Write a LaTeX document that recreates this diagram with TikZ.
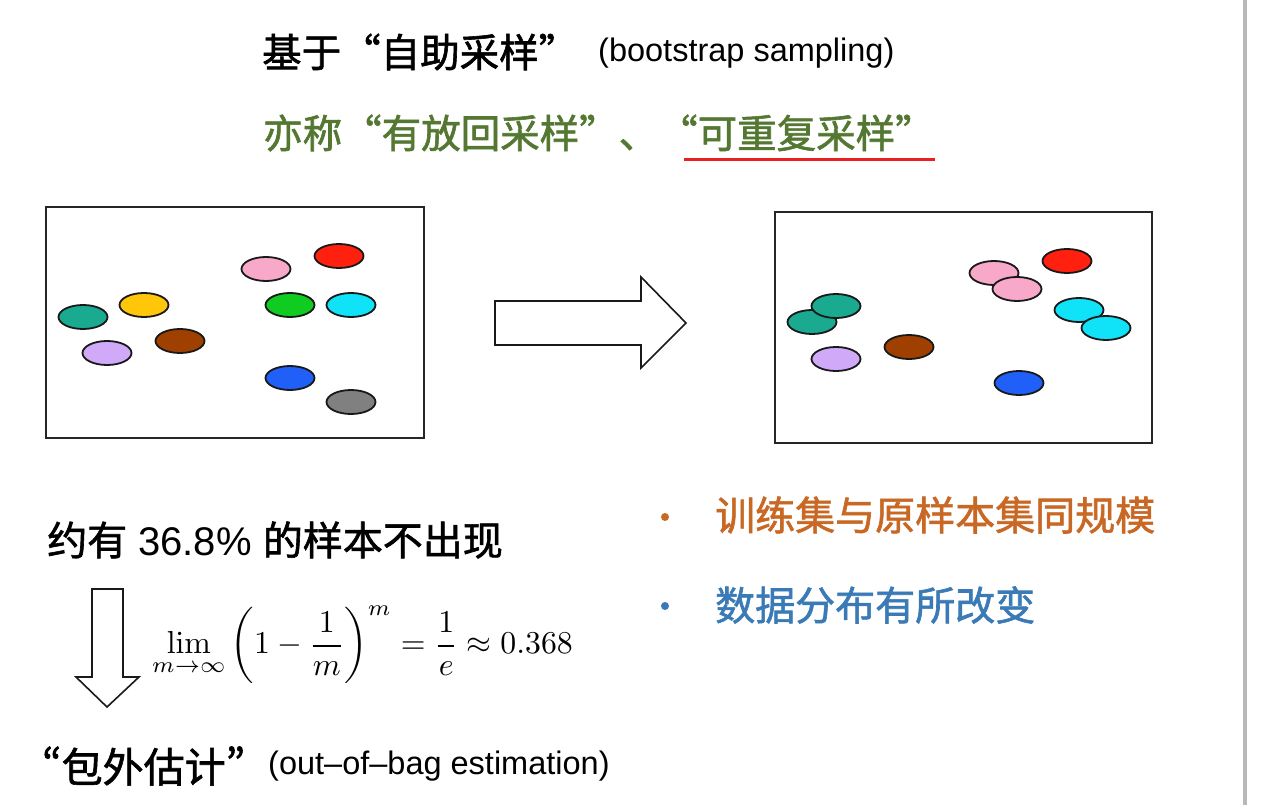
\documentclass[tikz,border=0pt]{standalone}
\usepackage[no-math]{fontspec}
\setmainfont{Liberation Sans}
\newfontfamily\cjk[FakeBold=1.5]{Noto Sans CJK SC}
\newfontfamily\cjkfw[CharacterWidth=Full,FakeBold=1.5]{Noto Sans CJK SC}
\newfontfamily\cjkpw[CharacterWidth=Proportional,FakeBold=1.5]{Noto Sans CJK SC}
\usetikzlibrary{shapes.geometric}
\definecolor{tgreen}{RGB}{84,120,50}
\definecolor{torange}{RGB}{200,104,36}
\definecolor{tblue}{RGB}{58,122,182}
\definecolor{ulred}{RGB}{232,32,32}
\definecolor{cteal}{RGB}{26,170,144}
\definecolor{cyellow}{RGB}{255,198,10}
\definecolor{clav}{RGB}{208,170,248}
\definecolor{cbrown}{RGB}{160,64,0}
\definecolor{cpink}{RGB}{248,168,200}
\definecolor{cred}{RGB}{255,32,16}
\definecolor{cgreen}{RGB}{16,204,32}
\definecolor{ccyan}{RGB}{16,226,248}
\definecolor{cblue}{RGB}{32,96,248}
\definecolor{cgray}{RGB}{128,128,128}
\tikzset{
  dot/.style={ellipse, draw=black!90, line width=1.8pt, minimum width=49pt, minimum height=24pt, inner sep=0pt},
  frame/.style={draw=black!85, line width=1.8pt},
  bigarrow/.style={draw=black!90, line width=1.6pt, fill=white, line join=miter},
  txt/.style={anchor=west, inner sep=0pt},
  bul/.style={circle, inner sep=0pt, minimum size=8pt}
}
\begin{document}
\begin{tikzpicture}[x=1pt,y=-1pt]
\useasboundingbox[fill=white] (0,0) rectangle (1281,805);
% right page edge
\fill[black!28] (1243,0) rectangle (1247,805);
% titles
\node[txt] (t1) at (262,52) {\fontsize{39.5}{45}\selectfont\cjkfw 基于“自助采样”};
\node[txt] (t1b) at (598,53) {\fontsize{32.5}{38}\selectfont (bootstrap sampling)};
\node[txt, text=tgreen] (t2) at (263,133) {\fontsize{39.5}{45}\selectfont\cjkfw 亦称“有放回采样”、“可重复采样”};
\coordinate (u1) at (684,160);
\coordinate (u2) at (935,160);
\draw[ulred, line width=3pt] (u1) -- (u2);
% left box
\draw[frame] (46,207) rectangle (424,438);
\node[dot, fill=cteal] (l1) at (83,317) {};
\node[dot, fill=cyellow] (l2) at (144,305) {};
\node[dot, fill=clav] (l3) at (107,353) {};
\node[dot, fill=cbrown] (l4) at (180,341) {};
\node[dot, fill=cpink] (l5) at (266,269) {};
\node[dot, fill=cred] (l6) at (339,256) {};
\node[dot, fill=cgreen] (l7) at (290,305) {};
\node[dot, fill=ccyan] (l8) at (351,305) {};
\node[dot, fill=cblue] (l9) at (290,378) {};
\node[dot, fill=cgray] (l10) at (351,402) {};
% right arrow
\draw[bigarrow] (495,301) -- (641,301) -- (641,277) -- (686,323) -- (641,368) -- (641,345) -- (495,345) -- cycle;
% right box
\draw[frame] (775,212) rectangle (1152,443);
\node[dot, fill=cteal] (r1) at (812,322) {};
\node[dot, fill=cteal] (r2) at (836,306) {};
\node[dot, fill=clav] (r3) at (836,359) {};
\node[dot, fill=cbrown] (r4) at (909,347) {};
\node[dot, fill=cpink] (r5) at (994,273) {};
\node[dot, fill=cpink] (r6) at (1017,289) {};
\node[dot, fill=cred] (r7) at (1067,261) {};
\node[dot, fill=ccyan] (r8) at (1079,310) {};
\node[dot, fill=ccyan] (r9) at (1106,328) {};
\node[dot, fill=cblue] (r10) at (1019,383) {};
% left lower text
\node[txt] (p1) at (47,540) {\fontsize{40}{46}\selectfont{\cjk 约有} 36.8\% {\cjk 的样本不出现}};
\draw[bigarrow] (92,589) -- (123,589) -- (123,677) -- (139,677) -- (107,707) -- (76,677) -- (92,677) -- cycle;
\node[txt] (f) at (152,645) {\scalebox{3.18}{$\displaystyle \lim_{m\to\infty}\left(1-\frac{1}{m}\right)^{m}=\frac{1}{e}\approx 0.368$}};
\node[txt] (oob) at (42,766) {\fontsize{41}{46}\selectfont\cjkpw “包外估计”};
\node[txt] (oob2) at (268,766) {\fontsize{32.5}{38}\selectfont(out–of–bag estimation)};
% bullets
\node[bul, fill=torange] (b1) at (665,517) {};
\node[txt, text=torange] (s1) at (715,515) {\fontsize{40}{46}\selectfont\cjk 训练集与原样本集同规模};
\node[bul, fill=tblue] (b2) at (665,606) {};
\node[txt, text=tblue] (s2) at (715,605) {\fontsize{40}{46}\selectfont\cjk 数据分布有所改变};
\end{tikzpicture}
\end{document}
